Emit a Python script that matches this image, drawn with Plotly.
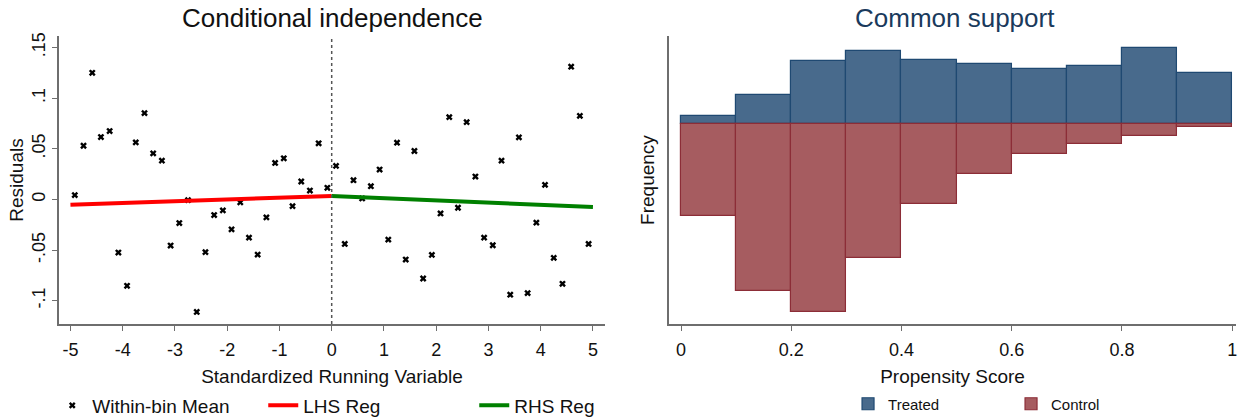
import plotly.graph_objects as go

# left panel: within-bin residual means around the cutoff
bin_x_left = [-4.917, -4.75, -4.583, -4.417, -4.25, -4.083, -3.917, -3.75, -3.583, -3.417,
              -3.25, -3.083, -2.917, -2.75, -2.583, -2.417, -2.25, -2.083, -1.917, -1.75,
              -1.583, -1.417, -1.25, -1.083, -0.917, -0.75, -0.583, -0.417, -0.25, -0.083]
bin_y_left = [0.0043, 0.053, 0.125, 0.0616, 0.0675, -0.0524, -0.0852, 0.0563, 0.0852, 0.0455,
              0.0383, -0.0455, -0.0233, -0.0007, -0.111, -0.052, -0.0154, -0.0108, -0.0295, -0.0029,
              -0.0377, -0.0544, -0.0177, 0.036, 0.0406, -0.0066, 0.0177, 0.0088, 0.0554, 0.0115]
bin_x_right = [0.083, 0.25, 0.417, 0.583, 0.75, 0.917, 1.083, 1.25, 1.417, 1.583,
               1.75, 1.917, 2.083, 2.25, 2.417, 2.583, 2.75, 2.917, 3.083, 3.25,
               3.417, 3.583, 3.75, 3.917, 4.083, 4.25, 4.417, 4.583, 4.75, 4.917]
bin_y_right = [0.0331, -0.0439, 0.019, 0.001, 0.0131, 0.0295, -0.0396, 0.056, -0.0593, 0.0478,
               -0.078, -0.0547, -0.0138, 0.0812, -0.0082, 0.0763, 0.0226, -0.0377, -0.0452, 0.0383,
               -0.094, 0.0613, -0.0924, -0.0229, 0.0144, -0.0576, -0.0832, 0.131, 0.0825, -0.0439]
lhs_x = [-5, 0]
lhs_y = [-0.0052, 0.0035]
rhs_x = [0, 5]
rhs_y = [0.0035, -0.0075]
cutoff = 0

resid_ticks = [0.15, 0.1, 0.05, 0, -0.05, -0.1]
resid_labels = ['.15', '.1', '.05', '0', '-.05', '-.1']
run_ticks = [-5, -4, -3, -2, -1, 0, 1, 2, 3, 4, 5]
run_labels = ['-5', '-4', '-3', '-2', '-1', '0', '1', '2', '3', '4', '5']

# right panel: propensity score histogram (treated up, control down)
ps_bins = [0.05, 0.15, 0.25, 0.35, 0.45, 0.55, 0.65, 0.75, 0.85, 0.95]
treated = [11, 44, 94, 110, 96, 90, 82, 87, 114, 77]
control = [139, 253, 285, 203, 121, 76, 45, 30, 19, 5]
ps_ticks = [0, 0.2, 0.4, 0.6, 0.8, 1]
ps_labels = ['0', '0.2', '0.4', '0.6', '0.8', '1']

FONT = 'Liberation Sans, Arial, sans-serif'
AXIS_GREY = '#6e6e6e'

fig = go.Figure()

fig.add_trace(go.Scatter(x=bin_x_left + bin_x_right, y=bin_y_left + bin_y_right,
                         mode='markers', name='Within-bin Mean', legend='legend',
                         marker=dict(symbol='x', size=6, color='black'),
                         xaxis='x', yaxis='y'))
fig.add_trace(go.Scatter(x=lhs_x, y=lhs_y, mode='lines', name='LHS Reg', legend='legend',
                         line=dict(color='#ff0000', width=4), xaxis='x', yaxis='y'))
fig.add_trace(go.Scatter(x=rhs_x, y=rhs_y, mode='lines', name='RHS Reg', legend='legend',
                         line=dict(color='#008000', width=4), xaxis='x', yaxis='y'))

fig.add_trace(go.Bar(x=ps_bins, y=treated, width=0.1, name='Treated', legend='legend2',
                     marker=dict(color='#486a8c', line=dict(color='#1f4972', width=1.2)),
                     xaxis='x2', yaxis='y2'))
fig.add_trace(go.Bar(x=ps_bins, y=[-c for c in control], width=0.1, name='Control', legend='legend2',
                     marker=dict(color='#a65c60', line=dict(color='#8c2d37', width=1.2)),
                     xaxis='x2', yaxis='y2'))

# dotted cutoff line
fig.add_shape(type='line', x0=cutoff, x1=cutoff, y0=0, y1=1, xref='x', yref='y domain',
              line=dict(color='#555555', width=1.5, dash='dot'))

axis_common = dict(showline=True, linecolor=AXIS_GREY, linewidth=1.5, showgrid=False,
                   zeroline=False, ticks='outside', ticklen=5, tickcolor=AXIS_GREY,
                   tickfont=dict(size=18, color='#111111'), automargin=False)

fig.update_layout(
    width=1244, height=419,
    # no auto-expansion, otherwise the bottom legends squeeze the plot areas
    margin=dict(l=0, r=0, t=0, b=0, autoexpand=False),
    paper_bgcolor='white', plot_bgcolor='white',
    font=dict(family=FONT, color='#111111'),
    barmode='overlay', bargap=0,
    xaxis=dict(domain=[0.0474, 0.4863], range=[-5.22, 5.23],
               tickvals=run_ticks, ticktext=run_labels, ticklabelstandoff=4,
               title=dict(text='Standardized Running Variable', font=dict(size=19), standoff=10),
               **axis_common),
    yaxis=dict(domain=[0.2267, 0.9141], range=[-0.1229, 0.1613],
               tickvals=resid_ticks, ticktext=resid_labels, tickangle=-90,
               title=dict(text='Residuals', font=dict(size=19), standoff=0),
               **axis_common),
    xaxis2=dict(domain=[0.5378, 0.9936], range=[-0.0218, 1.007], anchor='y2',
                tickvals=ps_ticks, ticktext=ps_labels, ticklabelstandoff=4,
                title=dict(text='Propensity Score', font=dict(size=19), standoff=10),
                **axis_common),
    yaxis2=dict(domain=[0.2267, 0.9141], range=[-302.5, 132.5], anchor='x2',
                showline=True, linecolor=AXIS_GREY, linewidth=1.5, showgrid=False,
                zeroline=False, showticklabels=False, ticks='', automargin=False,
                title=dict(text='Frequency', font=dict(size=19), standoff=8)),
    legend=dict(orientation='h', x=0.042, y=0.0322, xanchor='left', yanchor='middle',
                font=dict(size=19), entrywidth=166, bgcolor='rgba(0,0,0,0)'),
    legend2=dict(orientation='h', x=0.6817, y=0.0358, xanchor='left', yanchor='middle',
                 font=dict(size=15), entrywidth=118, bgcolor='rgba(0,0,0,0)'),
    annotations=[
        dict(text='Conditional independence', x=0.2669, y=0.957, xref='paper', yref='paper',
             xanchor='center', yanchor='middle', showarrow=False,
             font=dict(size=26, color='#111111')),
        dict(text='Common support', x=0.7677, y=0.957, xref='paper', yref='paper',
             xanchor='center', yanchor='middle', showarrow=False,
             font=dict(size=26, color='#1a3a5c')),
    ],
)

fig.write_html("out.html", config={'displayModeBar': False},
               post_script="document.body.style.margin='0px';")
